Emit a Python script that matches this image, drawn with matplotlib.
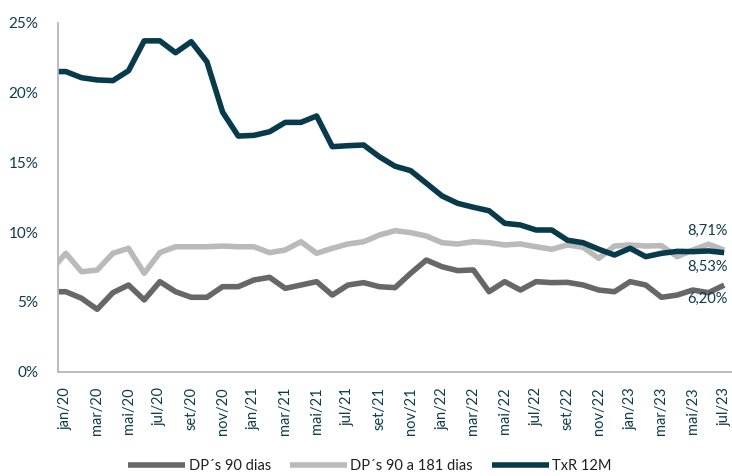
import matplotlib
matplotlib.use("Agg")
import matplotlib.pyplot as plt
import numpy as np

plt.rcParams['font.family'] = ['Lato', 'DejaVu Sans']

# Months dez/19 .. jul/23 (dez/19 lies just outside the plot and is clipped)
months = ["dez/19",
          "jan/20", "fev/20", "mar/20", "abr/20", "mai/20", "jun/20", "jul/20", "ago/20", "set/20", "out/20", "nov/20", "dez/20",
          "jan/21", "fev/21", "mar/21", "abr/21", "mai/21", "jun/21", "jul/21", "ago/21", "set/21", "out/21", "nov/21", "dez/21",
          "jan/22", "fev/22", "mar/22", "abr/22", "mai/22", "jun/22", "jul/22", "ago/22", "set/22", "out/22", "nov/22", "dez/22",
          "jan/23", "fev/23", "mar/23", "abr/23", "mai/23", "jun/23", "jul/23"]

dp90 = [5.73,
        5.73, 5.26, 4.47, 5.66, 6.21, 5.14, 6.45, 5.73, 5.33, 5.33, 6.09, 6.09,
        6.57, 6.76, 5.97, 6.21, 6.45, 5.49, 6.21, 6.38, 6.09, 6.02, 7.05, 8.00,
        7.52, 7.24, 7.29, 5.73, 6.45, 5.85, 6.45, 6.38, 6.40, 6.21, 5.85, 5.73,
        6.45, 6.21, 5.33, 5.49, 5.85, 5.66, 6.20]

dp90_181 = [7.20,
            8.48, 7.16, 7.28, 8.48, 8.84, 7.05, 8.53, 8.95, 8.95, 8.95, 9.00, 8.95,
            8.95, 8.53, 8.72, 9.31, 8.48, 8.84, 9.15, 9.31, 9.79, 10.10, 9.96, 9.72,
            9.24, 9.15, 9.31, 9.24, 9.08, 9.15, 8.95, 8.77, 9.08, 8.91, 8.12, 9.00,
            9.08, 9.00, 9.03, 8.24, 8.72, 9.13, 8.71]

txr12m = [21.5,
          21.5, 21.06, 20.9, 20.85, 21.56, 23.7, 23.7, 22.85, 23.64, 22.2, 18.6, 16.88,
          16.93, 17.19, 17.86, 17.86, 18.32, 16.12, 16.19, 16.24, 15.4, 14.72, 14.4, 13.5,
          12.59, 12.06, 11.78, 11.53, 10.63, 10.51, 10.15, 10.15, 9.42, 9.24, 8.77, 8.36,
          8.84, 8.24, 8.48, 8.62, 8.6, 8.65, 8.53]

yticks = [0, 5, 10, 15, 20, 25]
end_labels = ["8,71%", "8,53%", "6,20%"]

c_dp90 = "#676767"
c_dp181 = "#bababa"
c_txr = "#073a4b"
c_text = "#0f3c4c"

fig = plt.figure(figsize=(7.32, 4.76), dpi=100)
ax = fig.add_axes([58 / 732, 104.3 / 476, 674 / 732, 349 / 476])

x = np.arange(len(months)) - 1
lw = 4.0
ax.plot(x, dp90, color=c_dp90, lw=lw, solid_joinstyle='round', solid_capstyle='butt', label="DP´s 90 dias")
ax.plot(x, dp90_181, color=c_dp181, lw=lw, solid_joinstyle='round', solid_capstyle='butt', label="DP´s 90 a 181 dias")
ax.plot(x, txr12m, color=c_txr, lw=lw, solid_joinstyle='round', solid_capstyle='butt', label="TxR 12M")

ax.set_xlim(-0.5, 42.5)
ax.set_ylim(0, 25)

ax.set_yticks(yticks)
ax.set_yticklabels([f"{v}%" for v in yticks], fontsize=11, color=c_text)
xt = x[1::2]
ax.set_xticks(xt)
ax.set_xticklabels([months[i + 1] for i in xt], rotation=90, fontsize=10.5, color=c_text)
ax.tick_params(axis='both', length=0)
ax.tick_params(axis='y', pad=14)
ax.tick_params(axis='x', pad=11)

for s in ['top', 'right']:
    ax.spines[s].set_visible(False)
for s in ['left', 'bottom']:
    ax.spines[s].set_color("#b4b8bc")
    ax.spines[s].set_linewidth(1.3)

# end-value annotations
last = len(months) - 1
ax.annotate(end_labels[0], (x[last], dp90_181[last]), xytext=(-12, 9), textcoords='offset points',
            ha='center', va='bottom', fontsize=10.5, color=c_text)
ax.annotate(end_labels[1], (x[last], txr12m[last]), xytext=(-12, -5), textcoords='offset points',
            ha='center', va='top', fontsize=10.5, color=c_text)
ax.annotate(end_labels[2], (x[last], dp90[last]), xytext=(-12, -5), textcoords='offset points',
            ha='center', va='top', fontsize=10.5, color=c_text)

fig.legend(loc='center', bbox_to_anchor=(370 / 732, 1 - 466 / 476), ncol=3, frameon=False,
           handlelength=3.9, handletextpad=0.25, columnspacing=1.3, fontsize=10.5,
           labelcolor="#1f1f1f")

fig.savefig("out.png", dpi=100)
